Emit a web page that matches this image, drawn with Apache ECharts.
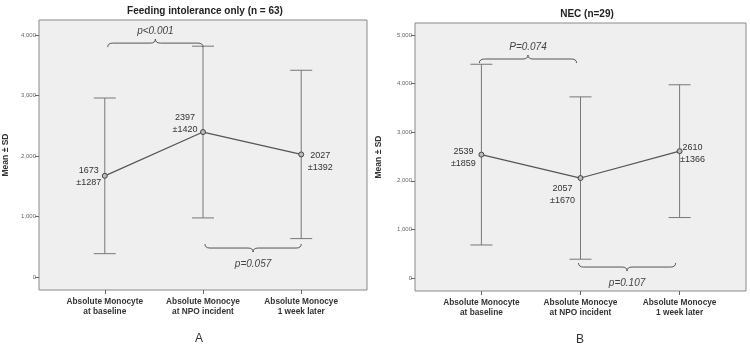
<!DOCTYPE html>
<html>
<head>
<meta charset="utf-8">
<script src="https://cdn.jsdelivr.net/npm/echarts@6/dist/echarts.min.js"></script>
<style>
  html, body { margin: 0; padding: 0; background: #fff; }
  #chart { width: 750px; height: 345px; }
</style>
</head>
<body>
<div id="chart"></div>
<script>
// monocyte means with SD bars, two panels (A: feeding intolerance, B: NEC)
const categories = ['Absolute Monocyte\nat baseline', 'Absolute Monocye\nat NPO incident', 'Absolute Monocye\n1 week later'];

const meanA = [1673, 2397, 2027];
const sdA = [1287, 1420, 1392];
const meanB = [2539, 2057, 2610];
const sdB = [1859, 1670, 1366];

const ticksA = [0, 1000, 2000, 3000, 4000];
const ticksB = [0, 1000, 2000, 3000, 4000, 5000];

// p-value brackets: [from category, to category, level, text]
const bracketsA = [[0.03, 1.0, 3868, 'p<0.001'], [1.02, 2.0, 479, 'p=0.057']];
const bracketsB = [[-0.02, 0.96, 4506, 'P=0.074'], [0.98, 1.96, 226, 'p=0.107']];

// where each value label sits relative to its point (pixels)
const labelPosA = [[-16, 1], [-18, -9], [19, 7]];
const labelPosB = [[-18, 3], [-18, 16], [13, 2]];

const font = '"Liberation Sans", Arial, sans-serif';
const lineCol = '#555';

const chart = echarts.init(document.getElementById('chart'));

function fmt(v) {
    return v.toLocaleString('en-US');
}

function xAxisFor(i) {
    return {
        type: 'value', gridIndex: i, min: -0.67, max: 2.67,
        splitLine: {show: false},
        axisLine: {show: false, onZero: false},
        axisTick: {show: true, customValues: [0, 1, 2], length: 4, lineStyle: {color: '#666'}},
        axisLabel: {
            customValues: [0, 1, 2],
            formatter: v => categories[Math.round(v)],
            fontFamily: font, fontSize: 8.3, fontWeight: 'bold', color: '#333',
            lineHeight: 10, margin: 7
        }
    };
}

function yAxisFor(i, min, max, ticks, gap) {
    return {
        type: 'value', gridIndex: i, min: min, max: max,
        name: 'Mean ± SD', nameLocation: 'middle', nameRotate: 90, nameGap: gap,
        nameTextStyle: {fontFamily: font, fontSize: 8.5, fontWeight: 'bold', color: '#333'},
        splitLine: {show: false},
        axisLine: {show: false, onZero: false},
        axisTick: {show: true, customValues: ticks, length: 4, lineStyle: {color: '#666'}},
        axisLabel: {customValues: ticks, formatter: fmt, fontFamily: font, fontSize: 6, color: '#666', margin: 3}
    };
}

function errorSeries(i, mean, sd) {
    return {
        type: 'custom', xAxisIndex: i, yAxisIndex: i, z: 2,
        data: mean.map((m, k) => [k, m - sd[k], m + sd[k]]),
        renderItem: (params, api) => {
            const lo = api.coord([api.value(0), api.value(1)]);
            const hi = api.coord([api.value(0), api.value(2)]);
            const st = {stroke: '#777', lineWidth: 1};
            return {
                type: 'group',
                children: [
                    {type: 'line', shape: {x1: lo[0], y1: lo[1], x2: hi[0], y2: hi[1]}, style: st},
                    {type: 'line', shape: {x1: lo[0] - 11, y1: lo[1], x2: lo[0] + 11, y2: lo[1]}, style: st},
                    {type: 'line', shape: {x1: hi[0] - 11, y1: hi[1], x2: hi[0] + 11, y2: hi[1]}, style: st}
                ]
            };
        }
    };
}

function meanSeries(i, mean) {
    return {
        type: 'line', xAxisIndex: i, yAxisIndex: i, z: 3,
        data: mean.map((m, k) => [k, m]),
        symbol: 'circle', symbolSize: 5,
        itemStyle: {color: '#bbb', borderColor: '#444', borderWidth: 1},
        lineStyle: {color: lineCol, width: 1.2},
        emphasis: {disabled: true}
    };
}

function labelSeries(i, mean, sd, pos) {
    return {
        type: 'custom', xAxisIndex: i, yAxisIndex: i, z: 4,
        data: mean.map((m, k) => [k, m, sd[k]]),
        renderItem: (params, api) => {
            const p = api.coord([api.value(0), api.value(1)]);
            const off = pos[params.dataIndex];
            return {
                type: 'text',
                style: {
                    x: p[0] + off[0], y: p[1] + off[1],
                    text: api.value(1) + '\n±' + api.value(2),
                    align: 'center', verticalAlign: 'middle',
                    fontFamily: font, fontSize: 9, lineHeight: 12, fill: '#333'
                }
            };
        }
    };
}

function bracketSeries(i, brackets) {
    return {
        type: 'custom', xAxisIndex: i, yAxisIndex: i, z: 5,
        data: brackets.map(b => [b[0], b[1], b[2]]),
        renderItem: (params, api) => {
            const a = api.coord([api.value(0), api.value(2)]);
            const b = api.coord([api.value(1), api.value(2)]);
            const txt = brackets[params.dataIndex][3];
            const y = a[1];
            // top bracket opens downward, bottom bracket opens upward
            const s = api.value(2) > 2000 ? 1 : -1;
            const x1 = a[0], x2 = b[0], xm = (x1 + x2) / 2;
            const d = 'M' + x1 + ' ' + (y + 4 * s) +
                ' Q' + x1 + ' ' + y + ' ' + (x1 + 5) + ' ' + y +
                ' L' + (xm - 5) + ' ' + y +
                ' Q' + xm + ' ' + y + ' ' + xm + ' ' + (y - 4 * s) +
                ' Q' + xm + ' ' + y + ' ' + (xm + 5) + ' ' + y +
                ' L' + (x2 - 5) + ' ' + y +
                ' Q' + x2 + ' ' + y + ' ' + x2 + ' ' + (y + 4 * s);
            return {
                type: 'group',
                children: [
                    {type: 'path', shape: {pathData: d}, style: {fill: 'none', stroke: '#555', lineWidth: 1}},
                    {type: 'text', style: {
                        x: xm, y: y - (s > 0 ? 12 : -16), text: txt,
                        align: 'center', verticalAlign: 'middle',
                        fontFamily: font, fontSize: 10, fontStyle: 'italic', fill: '#444'
                    }}
                ]
            };
        }
    };
}

const option = {
    animation: false,
    backgroundColor: '#fff',
    title: [
        {text: 'Feeding intolerance only (n = 63)', left: 200, top: 1, textAlign: 'center',
            textStyle: {fontFamily: font, fontSize: 10, fontWeight: 'bold', color: '#222'}},
        {text: 'NEC (n=29)', left: 582, top: 4, textAlign: 'center',
            textStyle: {fontFamily: font, fontSize: 10, fontWeight: 'bold', color: '#222'}},
        {text: 'A', left: 194, top: 328, textAlign: 'center',
            textStyle: {fontFamily: font, fontSize: 12, fontWeight: 'normal', color: '#333'}},
        {text: 'B', left: 575, top: 329, textAlign: 'center',
            textStyle: {fontFamily: font, fontSize: 12, fontWeight: 'normal', color: '#333'}}
    ],
    grid: [
        {left: 36, top: 20, width: 331, height: 270, show: true, backgroundColor: '#efefef', borderColor: '#8a8a8a', borderWidth: 1},
        {left: 415, top: 23, width: 331, height: 268, show: true, backgroundColor: '#efefef', borderColor: '#8a8a8a', borderWidth: 1}
    ],
    xAxis: [xAxisFor(0), xAxisFor(1)],
    yAxis: [yAxisFor(0, -215, 4250, ticksA, 29), yAxisFor(1, -267, 5247, ticksB, 32)],
    series: [
        errorSeries(0, meanA, sdA),
        meanSeries(0, meanA),
        labelSeries(0, meanA, sdA, labelPosA),
        bracketSeries(0, bracketsA),
        errorSeries(1, meanB, sdB),
        meanSeries(1, meanB),
        labelSeries(1, meanB, sdB, labelPosB),
        bracketSeries(1, bracketsB)
    ]
};

chart.setOption(option);
</script>
</body>
</html>
